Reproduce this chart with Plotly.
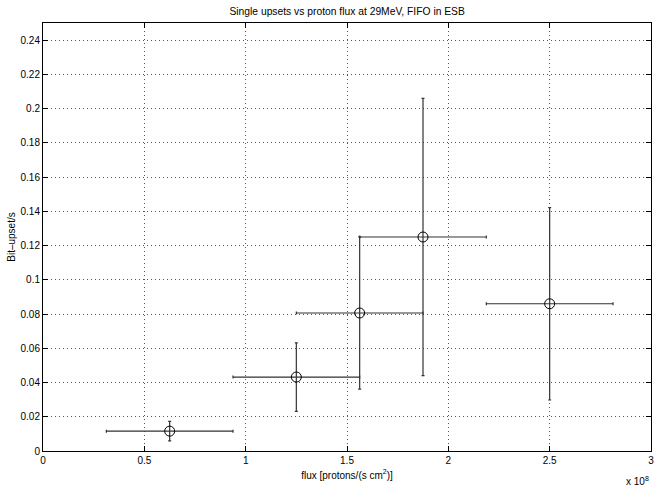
import plotly.graph_objects as go

# data (flux in units of 1e8 protons/(s cm^2))
flux = [0.625, 1.25, 1.5625, 1.875, 2.5]
flux_err = [0.3125, 0.3125, 0.3125, 0.3125, 0.3125]
upsets = [0.0116, 0.0432, 0.0806, 0.1250, 0.0860]
upsets_err = [0.0057, 0.0200, 0.0445, 0.0810, 0.0562]

yticks = [0, 0.02, 0.04, 0.06, 0.08, 0.1, 0.12, 0.14, 0.16, 0.18, 0.2, 0.22, 0.24]
yticklabels = ["0", "0.02", "0.04", "0.06", "0.08", "0.1", "0.12", "0.14", "0.16", "0.18", "0.2", "0.22", "0.24"]
xticks = [0, 0.5, 1, 1.5, 2, 2.5, 3]
xticklabels = ["0", "0.5", "1", "1.5", "2", "2.5", "3"]

font = "Liberation Sans, Arial, sans-serif"

fig = go.Figure()
fig.add_trace(go.Scatter(
    x=flux, y=upsets, mode="markers",
    marker=dict(symbol="circle-open", size=10, color="black", line=dict(width=1, color="black")),
    error_x=dict(type="data", array=flux_err, color="#333", thickness=1.2, width=1.5),
    error_y=dict(type="data", array=upsets_err, color="#333", thickness=1.2, width=1.5),
    showlegend=False,
))

axis_common = dict(
    showline=True, linecolor="black", linewidth=1, mirror="ticks",
    ticks="inside", ticklen=5, tickcolor="black",
    showgrid=True, gridcolor="#555", griddash="1px,3px", gridwidth=1,
    zeroline=False, tickfont=dict(family=font, size=10, color="black"),
    automargin=False,
)

fig.update_xaxes(range=[0, 3], tickvals=xticks, ticktext=xticklabels,
                 title=dict(text="flux [protons/(s cm<sup>2</sup>)]", font=dict(family=font, size=10, color="black"), standoff=6),
                 **axis_common)
fig.update_yaxes(range=[0, 0.25], tickvals=yticks, ticktext=yticklabels,
                 title=dict(text="Bit–upset/s", font=dict(family=font, size=10, color="black"), standoff=3),
                 **axis_common)

fig.add_annotation(text="x 10<sup>8</sup>", xref="paper", yref="paper", x=1.0, y=-0.052,
                   xanchor="right", yanchor="top", showarrow=False,
                   font=dict(family=font, size=10, color="black"))

fig.update_layout(
    width=655, height=489,
    margin=dict(l=43, r=4, t=23, b=38),
    paper_bgcolor="white", plot_bgcolor="white",
    title=dict(text="Single upsets vs proton flux at 29MeV, FIFO in ESB", x=0.53, xanchor="center",
               y=0.985, yanchor="top", font=dict(family=font, size=10.3, color="black")),
)

fig.write_html("out.html", config={"displayModeBar": False},
               post_script="document.body.style.margin='0';")
